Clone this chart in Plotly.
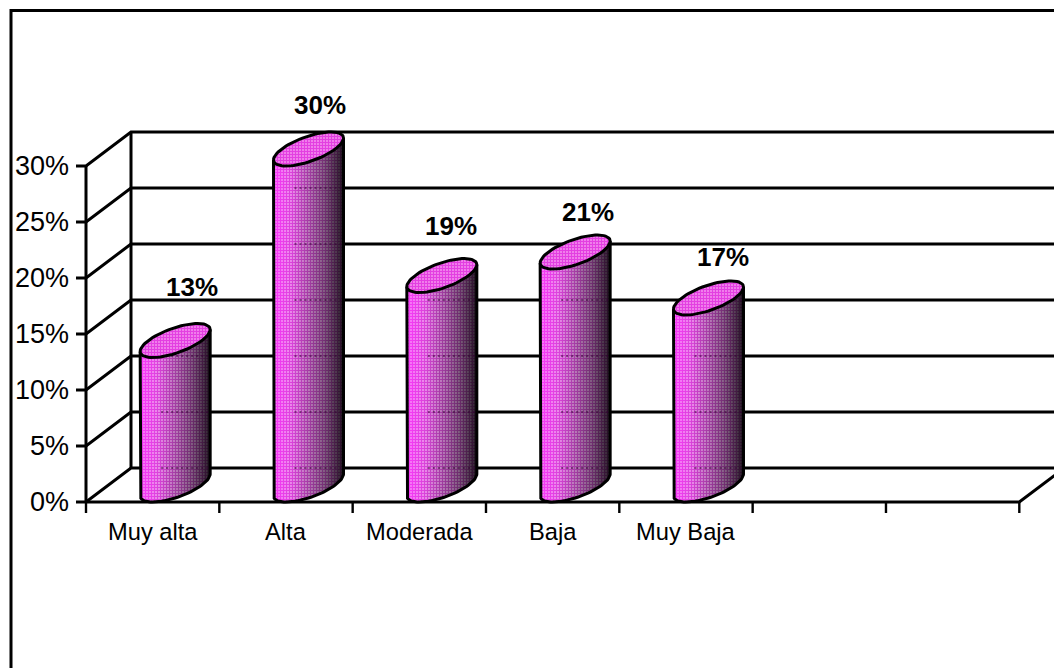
import math
import plotly.graph_objects as go

categories = ["Muy alta", "Alta", "Moderada", "Baja", "Muy Baja"]
values = [12.9, 30.0, 18.7, 20.8, 16.7]
value_labels = ["13%", "30%", "19%", "21%", "17%"]
y_ticks = [0, 5, 10, 15, 20, 25, 30]
y_tick_labels = ["0%", "5%", "10%", "15%", "20%", "25%", "30%"]
slot_count = 7

# page scale: pixels per slot / per percent, and the position of the plot origin
PX_X, PX_Y = 133.33, 11.2
ORIGIN_X, ORIGIN_Y = 86, 502
W, H = 1054, 668
DEPTH_X, DEPTH_Y = 45 / PX_X, 34 / PX_Y
LW = 3

# cylinder geometry in axis units
half_w = 35 / PX_X
dx = DEPTH_X / 2
dy = DEPTH_Y / 2
wx = math.sqrt(half_w ** 2 - dx ** 2)
phi = math.atan2(dx, wx)

stops = [
    (0.00, (250, 110, 250), (255, 0, 255)),
    (0.25, (235, 135, 235), (205, 0, 205)),
    (0.50, (185, 120, 185), (140, 0, 140)),
    (0.75, (125, 90, 125), (90, 0, 90)),
    (0.92, (70, 50, 70), (50, 0, 50)),
    (1.00, (30, 20, 30), (25, 0, 25)),
]


def shade(s):
    for (a, b0, f0), (b, b1, f1) in zip(stops, stops[1:]):
        if s <= b:
            k = (s - a) / (b - a)
            mix = lambda p, q: "rgb(%d,%d,%d)" % tuple(round(u + (v - u) * k) for u, v in zip(p, q))
            return mix(b0, b1), mix(f0, f1)
    return "rgb(30,20,30)", "rgb(25,0,25)"


def low_arc(s):
    """offset below the cylinder axis on the front edge, for s in [-1, 1]"""
    t = phi + 2 * math.pi - math.acos(max(-1, min(1, s)))
    return dy * math.sin(t)


def line(fig, xs, ys, width=LW):
    fig.add_trace(go.Scatter(x=xs, y=ys, mode="lines", hoverinfo="skip", showlegend=False,
                             line=dict(color="black", width=width)))


fig = go.Figure()

# walls and gridlines
for v in y_ticks:
    line(fig, [-10 / PX_X, 0, DEPTH_X, slot_count + DEPTH_X], [v, v, v + DEPTH_Y, v + DEPTH_Y])
line(fig, [0, 0], [0, y_ticks[-1]])
line(fig, [DEPTH_X, DEPTH_X], [DEPTH_Y, y_ticks[-1] + DEPTH_Y])
line(fig, [0, slot_count, slot_count + DEPTH_X], [0, 0, DEPTH_Y])
for i in range(slot_count + 1):
    line(fig, [i, i], [0, -11 / PX_Y], width=2.4)

# cylinders
N_STRIPS = 24
for i, v in enumerate(values):
    cx = i + 0.5 + dx
    y0 = dy
    y1 = dy + v
    for k in range(N_STRIPS):
        s0 = -1 + 2 * k / N_STRIPS
        s1 = -1 + 2 * (k + 1.25) / N_STRIPS
        s1 = min(s1, 1)
        ss = [s0 + (s1 - s0) * j / 3 for j in range(4)]
        xs = [cx + half_w * s for s in ss]
        low = [low_arc(s) for s in ss]
        bg, fg = shade((k + 0.5) / N_STRIPS)
        fig.add_trace(go.Scatter(
            x=xs + xs[::-1] + xs[:1],
            y=[y0 + u for u in low] + [y1 + u for u in low[::-1]] + [y0 + low[0]],
            mode="lines", line=dict(width=0), fill="toself", hoverinfo="skip", showlegend=False,
            fillpattern=dict(shape="+", size=3, solidity=0.55, bgcolor=bg, fgcolor=fg),
        ))
    # gridlines showing faintly through the cylinder
    for g in y_ticks:
        level = g + DEPTH_Y
        if y0 < level < y1:
            fig.add_trace(go.Scatter(
                x=[cx - 0.4 * half_w, cx + half_w], y=[level, level], mode="lines", hoverinfo="skip",
                showlegend=False, line=dict(color="rgba(50,0,50,0.5)", width=2, dash="2px,3px"),
            ))
    ts = [phi + math.pi + math.pi * j / 48 for j in range(49)]
    arc_x = [cx + wx * math.cos(t) + dx * math.sin(t) for t in ts]
    arc_y = [y0 + dy * math.sin(t) for t in ts]
    line(fig, [arc_x[0]] + arc_x + [arc_x[-1]],
         [y1 + dy * math.sin(ts[0])] + arc_y + [y1 + dy * math.sin(ts[-1])], width=3)
    ts = [2 * math.pi * j / 72 for j in range(73)]
    fig.add_trace(go.Scatter(
        x=[cx + wx * math.cos(t) + dx * math.sin(t) for t in ts],
        y=[y1 + dy * math.sin(t) for t in ts],
        mode="lines", line=dict(color="black", width=3), fill="toself", hoverinfo="skip", showlegend=False,
        fillpattern=dict(shape="+", size=3, solidity=0.55, bgcolor="rgb(240,125,235)", fgcolor="rgb(215,0,215)"),
    ))

annotations = []
for v, t in zip(y_ticks, y_tick_labels):
    annotations.append(dict(x=0, y=v, text=t, xanchor="right", yanchor="middle", xshift=-15, showarrow=False,
                            font=dict(family="Liberation Sans, Arial", size=27, color="black")))
for i, c in enumerate(categories):
    annotations.append(dict(x=i + 0.5, y=0, text=c, xanchor="center", yanchor="middle", yshift=-30, showarrow=False,
                            font=dict(family="Liberation Sans, Arial", size=23.7, color="black")))
label_nudges = [(17, 54), (11, 44), (9, 50), (13, 40), (15, 41)]
for i, (v, t) in enumerate(zip(values, value_labels)):
    annotations.append(dict(x=i + 0.5 + dx, y=dy + v, text=f"<b>{t}</b>", xanchor="center", yanchor="middle",
                            xshift=label_nudges[i][0], yshift=label_nudges[i][1], showarrow=False,
                            font=dict(family="Liberation Sans, Arial", size=26, color="black")))

fig.update_layout(
    width=W, height=H, margin=dict(l=0, r=0, t=0, b=0),
    paper_bgcolor="white", plot_bgcolor="white", showlegend=False,
    xaxis=dict(visible=False, range=[-ORIGIN_X / PX_X, (W - ORIGIN_X) / PX_X]),
    yaxis=dict(visible=False, range=[(ORIGIN_Y - H) / PX_Y, ORIGIN_Y / PX_Y]),
    annotations=annotations,
    shapes=[dict(type="rect", xref="paper", yref="paper", x0=11 / W, x1=1.1, y0=-0.1, y1=1 - 10.5 / H,
                 line=dict(color="black", width=3), fillcolor="rgba(0,0,0,0)", layer="above")],
)
fig.write_html("out.html", config=dict(displayModeBar=False),
               post_script="document.body.style.margin='0';document.body.style.overflow='hidden';")
